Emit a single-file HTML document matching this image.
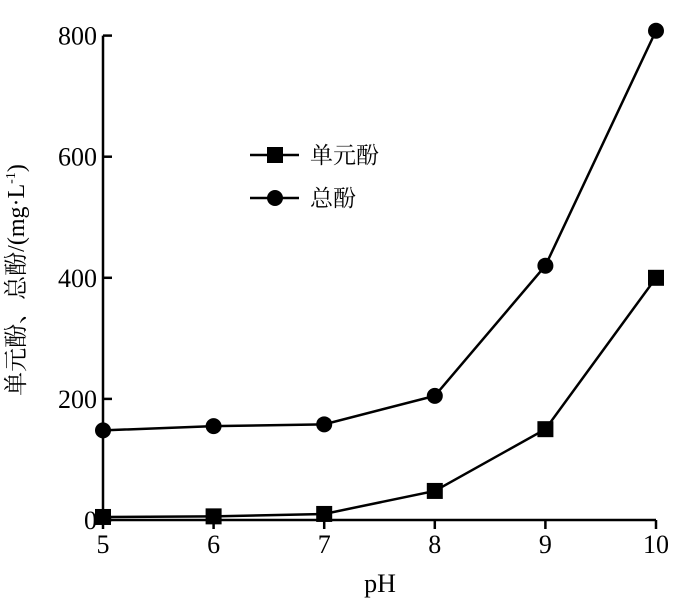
<!DOCTYPE html>
<html><head><meta charset="utf-8"><style>
body{margin:0;background:#fff}
svg{display:block}
text{font-family:"Liberation Serif","Noto Serif CJK SC",serif;fill:#000}
</style></head><body>
<svg id="c" width="700" height="601" viewBox="0 0 700 601">
<g id="axes"></g><g id="series"></g>
<g>
 <line x1="250" y1="155" x2="299" y2="155" stroke="#000" stroke-width="2.5"/>
 <rect x="267" y="147" width="16" height="16" fill="#000"/>
 <text x="310" y="163" font-size="23">单元酚</text>
 <line x1="250" y1="198" x2="299" y2="198" stroke="#000" stroke-width="2.5"/>
 <circle cx="275" cy="198" r="8" fill="#000"/>
 <text x="310" y="206" font-size="23">总酚</text>
</g>
<text x="380" y="592" font-size="26" text-anchor="middle">pH</text>
<text transform="translate(24,280) rotate(-90)" font-size="24" text-anchor="middle">单元酚、总酚/(mg·L<tspan dy="-9" font-size="14">-1</tspan><tspan dy="9">)</tspan></text>
</svg>
<script>
const categories=[5,6,7,8,9,10];
const monophenol=[5,6,10,48,150,400];
const totalPhenol=[148,155,158,205,420,808];
const yTicks=[0,200,400,600,800];
const NS="http://www.w3.org/2000/svg";
const X=v=>103+(v-5)*(656-103)/5;
const Y=v=>520-v*0.6055;
function mk(t,a,p){const e=document.createElementNS(NS,t);for(const k in a)e.setAttribute(k,a[k]);p.appendChild(e);return e;}
const ax=document.getElementById('axes'),se=document.getElementById('series');
let l=mk('line',{x1:103,y1:Y(800),x2:103,y2:520,stroke:'#000','stroke-width':2.5},ax);


l=mk('line',{x1:103,y1:520,x2:656,y2:520,stroke:'#000','stroke-width':2.5},ax);


yTicks.forEach(v=>{
 const t=mk('line',{x1:103,y1:Y(v),x2:112,y2:Y(v),stroke:'#000','stroke-width':2.5},ax);
 
 
 const s=mk('text',{x:97,y:Y(v)+9,'font-size':26,'text-anchor':'end'},ax);s.textContent=v;
 
 
});
categories.forEach(v=>{
 const t=mk('line',{x1:X(v),y1:520,x2:X(v),y2:529,stroke:'#000','stroke-width':2.5},ax);
 
 
 const s=mk('text',{x:X(v),y:553,'font-size':26,'text-anchor':'middle'},ax);s.textContent=v;
 
 
});
function line(vals,name){
 const p=mk('polyline',{points:vals.map((v,i)=>X(categories[i])+','+Y(v)).join(' '),fill:'none',stroke:'#000','stroke-width':2.5},se);
 
 
}
line(monophenol,'monophenol');line(totalPhenol,'total-phenol');
monophenol.forEach((v,i)=>{
 const r=mk('rect',{x:X(categories[i])-8,y:Y(v)-8,width:16,height:16,fill:'#000'},se);
 
 
});
totalPhenol.forEach((v,i)=>{
 const c=mk('circle',{cx:X(categories[i]),cy:Y(v),r:8,fill:'#000'},se);
 
 
});
</script>
</body></html>
